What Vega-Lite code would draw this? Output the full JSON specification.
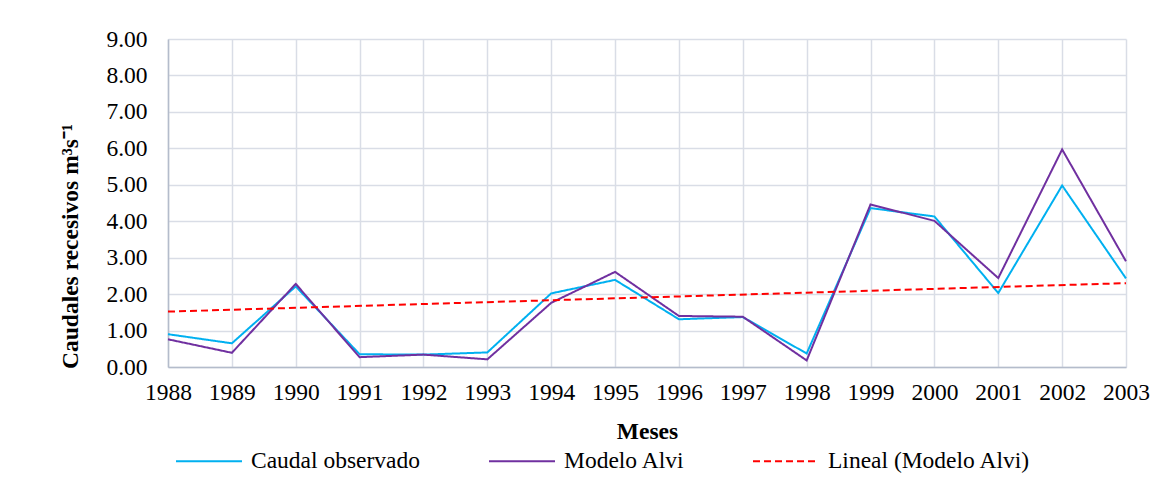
{
  "$schema": "https://vega.github.io/schema/vega-lite/v6.json",
  "width": 958,
  "height": 328,
  "autosize": {"type": "none"},
  "padding": {"left": 168, "top": 39, "right": 49, "bottom": 120},
  "background": "white",
  "config": {
    "view": {"stroke": null},
    "font": "Liberation Serif",
    "axis": {
      "labelFont": "Liberation Serif",
      "labelFontSize": 23.5,
      "labelColor": "#000000",
      "titleFont": "Liberation Serif",
      "titleFontSize": 23.5,
      "titleFontWeight": "bold",
      "titleColor": "#000000",
      "gridColor": "#d9dde6",
      "gridWidth": 1.5,
      "domainColor": "#b4bccb",
      "domainWidth": 1.5,
      "ticks": false
    },
    "legend": {
      "labelFont": "Liberation Serif",
      "labelFontSize": 23.5,
      "labelColor": "#000000",
      "labelLimit": 500
    }
  },
  "data": {
    "values": [
      {"anio": 1988, "serie": "Caudal observado", "valor": 0.9},
      {"anio": 1989, "serie": "Caudal observado", "valor": 0.65},
      {"anio": 1990, "serie": "Caudal observado", "valor": 2.21},
      {"anio": 1991, "serie": "Caudal observado", "valor": 0.35},
      {"anio": 1992, "serie": "Caudal observado", "valor": 0.34},
      {"anio": 1993, "serie": "Caudal observado", "valor": 0.4},
      {"anio": 1994, "serie": "Caudal observado", "valor": 2.02},
      {"anio": 1995, "serie": "Caudal observado", "valor": 2.39},
      {"anio": 1996, "serie": "Caudal observado", "valor": 1.31},
      {"anio": 1997, "serie": "Caudal observado", "valor": 1.37},
      {"anio": 1998, "serie": "Caudal observado", "valor": 0.37},
      {"anio": 1999, "serie": "Caudal observado", "valor": 4.36},
      {"anio": 2000, "serie": "Caudal observado", "valor": 4.13},
      {"anio": 2001, "serie": "Caudal observado", "valor": 2.03},
      {"anio": 2002, "serie": "Caudal observado", "valor": 4.98},
      {"anio": 2003, "serie": "Caudal observado", "valor": 2.43},
      {"anio": 1988, "serie": "Modelo Alvi", "valor": 0.76},
      {"anio": 1989, "serie": "Modelo Alvi", "valor": 0.39},
      {"anio": 1990, "serie": "Modelo Alvi", "valor": 2.28},
      {"anio": 1991, "serie": "Modelo Alvi", "valor": 0.27},
      {"anio": 1992, "serie": "Modelo Alvi", "valor": 0.34},
      {"anio": 1993, "serie": "Modelo Alvi", "valor": 0.21},
      {"anio": 1994, "serie": "Modelo Alvi", "valor": 1.76},
      {"anio": 1995, "serie": "Modelo Alvi", "valor": 2.61},
      {"anio": 1996, "serie": "Modelo Alvi", "valor": 1.4},
      {"anio": 1997, "serie": "Modelo Alvi", "valor": 1.38},
      {"anio": 1998, "serie": "Modelo Alvi", "valor": 0.18},
      {"anio": 1999, "serie": "Modelo Alvi", "valor": 4.46},
      {"anio": 2000, "serie": "Modelo Alvi", "valor": 4.01},
      {"anio": 2001, "serie": "Modelo Alvi", "valor": 2.44},
      {"anio": 2002, "serie": "Modelo Alvi", "valor": 5.97},
      {"anio": 2003, "serie": "Modelo Alvi", "valor": 2.9},
      {"anio": 1988, "serie": "Lineal (Modelo Alvi)", "valor": 1.52},
      {"anio": 2003, "serie": "Lineal (Modelo Alvi)", "valor": 2.3}
    ]
  },
  "mark": {"type": "line", "strokeWidth": 2},
  "encoding": {
    "x": {
      "field": "anio",
      "type": "quantitative",
      "scale": {"domain": [1988, 2003], "nice": false, "zero": false},
      "axis": {
        "values": [1988, 1989, 1990, 1991, 1992, 1993, 1994, 1995, 1996, 1997, 1998, 1999, 2000, 2001, 2002, 2003],
        "format": "d",
        "title": "Meses",
        "labelPadding": 13,
        "titlePadding": 16,
        "labelFlush": false,
        "labelOverlap": false
      }
    },
    "y": {
      "field": "valor",
      "type": "quantitative",
      "scale": {"domain": [0, 9], "nice": false},
      "axis": {
        "values": [0, 1, 2, 3, 4, 5, 6, 7, 8, 9],
        "format": ".2f",
        "title": "Caudales recesivos m³s⁻¹",
        "labelPadding": 21,
        "titleAngle": -90,
        "titleX": -86,
        "titleY": 207,
        "titleAlign": "center",
        "titleBaseline": "bottom"
      }
    },
    "color": {
      "field": "serie",
      "type": "nominal",
      "scale": {
        "domain": ["Caudal observado", "Modelo Alvi", "Lineal (Modelo Alvi)"],
        "range": ["#00b0f0", "#7030a0", "#ff0000"]
      },
      "legend": {
        "title": null,
        "orient": "none",
        "direction": "horizontal",
        "legendX": 7,
        "legendY": 388,
        "symbolType": "stroke",
        "symbolSize": 4356,
        "symbolStrokeWidth": 2,
        "labelFont": "Liberation Serif",
        "labelFontSize": 23.5,
        "labelLimit": 500,
        "labelOffset": 8,
        "columnPadding": 64
      }
    },
    "strokeDash": {
      "field": "serie",
      "type": "nominal",
      "scale": {
        "domain": ["Caudal observado", "Modelo Alvi", "Lineal (Modelo Alvi)"],
        "range": [[1, 0], [1, 0], [7, 4]]
      },
      "legend": {
        "title": null,
        "orient": "none",
        "direction": "horizontal",
        "legendX": 7,
        "legendY": 388,
        "symbolType": "stroke",
        "symbolSize": 4356,
        "symbolStrokeWidth": 2,
        "labelFont": "Liberation Serif",
        "labelFontSize": 23.5,
        "labelLimit": 500,
        "labelOffset": 8,
        "columnPadding": 64
      }
    }
  }
}
